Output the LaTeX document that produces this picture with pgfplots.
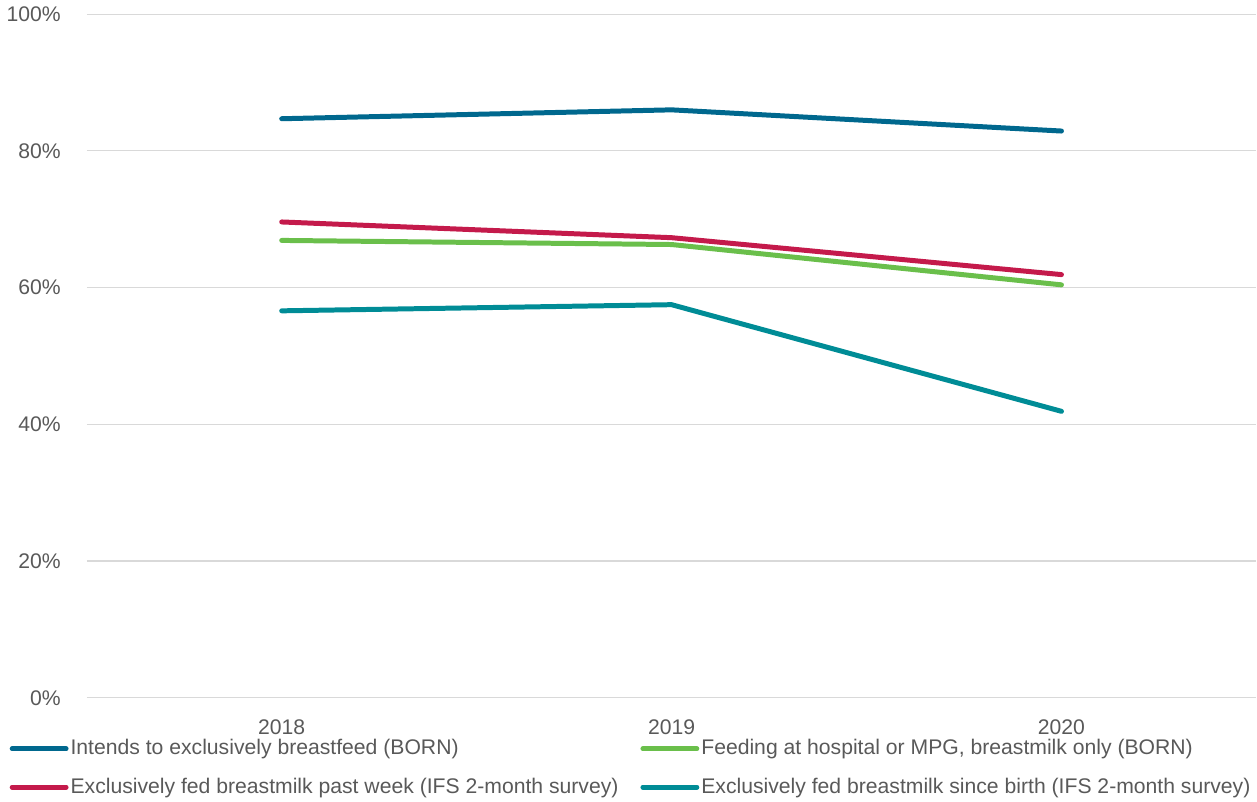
\documentclass[border=0pt]{standalone}
\usepackage{pgfplots}
\pgfplotsset{compat=1.18}
\usepackage{fontspec}
\setmainfont{Liberation Sans}
\definecolor{cblue}{HTML}{00688E}
\definecolor{cgreen}{HTML}{6ABF4B}
\definecolor{cred}{HTML}{C41A4B}
\definecolor{cteal}{HTML}{008C96}
\definecolor{ctext}{HTML}{595959}
\definecolor{cgrid}{HTML}{D9D9D9}
\begin{document}
\begin{tikzpicture}
\begin{axis}[
  scale only axis, width=586pt, height=342.5pt,
  xmin=0, xmax=3, ymin=0, ymax=100,
  axis line style={draw=none}, tick style={draw=none},
  ytick={0,20,40,60,80,100},
  yticklabel={\pgfmathprintnumber{\tick}\%},
  xtick={0.5,1.5,2.5}, xticklabels={2018,2019,2020},
  /pgf/number format/assume math mode=true,
  ticklabel style={font=\fontsize{10.6}{12.7}\selectfont, text=ctext},
  yticklabel style={xshift=-9.5pt},
  xticklabel style={yshift=-7.5pt},
  ymajorgrids, grid style={color=cgrid, line width=0.6pt},
  every axis plot/.append style={line width=2.5pt, line cap=round, line join=round},
  legend columns=2,
  legend cell align=left,
  legend image code/.code={\draw[#1, line cap=round] (0pt,0pt) -- (27pt,0pt);},
  legend style={at={(axis description cs:-0.0671,-0.0534)}, anchor=north west, draw=none, fill=none,
    font=\fontsize{10.6}{12.7}\selectfont, text=ctext, inner sep=0.5pt,
    row sep=6pt,
    /tikz/every even column/.append style={column sep=10pt},
    nodes={inner xsep=1pt}},
]
\addplot[cblue] coordinates {(0.5,84.7) (1.5,86.0) (2.5,82.9)};
\addlegendentry{Intends to exclusively breastfeed (BORN)}
\addplot[cgreen] coordinates {(0.5,66.9) (1.5,66.3) (2.5,60.4)};
\addlegendentry{Feeding at hospital or MPG, breastmilk only (BORN)}
\addplot[cred] coordinates {(0.5,69.6) (1.5,67.3) (2.5,61.9)};
\addlegendentry{Exclusively fed breastmilk past week (IFS 2-month survey)}
\addplot[cteal] coordinates {(0.5,56.6) (1.5,57.5) (2.5,41.9)};
\addlegendentry{Exclusively fed breastmilk since birth (IFS 2-month survey)}
\end{axis}
\end{tikzpicture}
\end{document}
